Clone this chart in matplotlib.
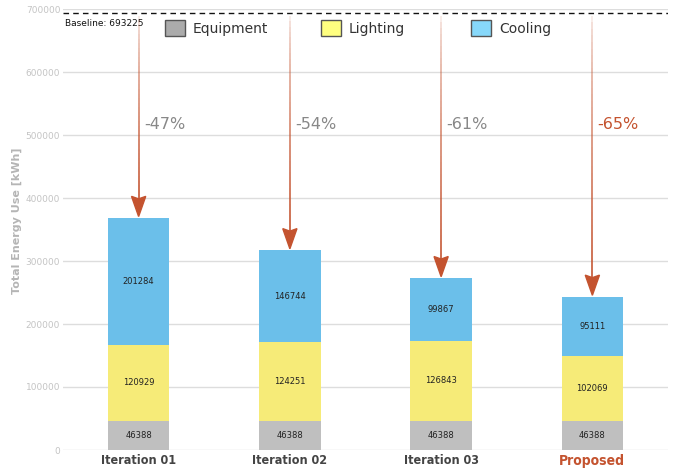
import matplotlib
matplotlib.use("Agg")
import matplotlib.pyplot as plt
import numpy as np
from matplotlib.patches import Patch, Polygon

categories = ["Iteration 01", "Iteration 02", "Iteration 03", "Proposed"]
equipment = [46388, 46388, 46388, 46388]
lighting = [120929, 124251, 126843, 102069]
cooling = [201284, 146744, 99867, 95111]
baseline = 693225
reductions = ["-47%", "-54%", "-61%", "-65%"]
legend_labels = ["Equipment", "Lighting", "Cooling"]
legend_colors = ["#ababab", "#ffff80", "#87d8fa"]

c_equip = "#bfbfbf"
c_light = "#f6eb78"
c_cool = "#6bbfea"
arrow_c = "#c4532f"

fig = plt.figure(figsize=(6.78, 4.70), dpi=100)
ax = fig.add_axes([63/678, 1-450/470, (668-63)/678, (450-9)/470])
x = np.arange(len(categories))
w = 0.405
ax.bar(x, equipment, w, color=c_equip, zorder=2)
ax.bar(x, lighting, w, bottom=equipment, color=c_light, zorder=2)
b2 = np.array(equipment) + np.array(lighting)
ax.bar(x, cooling, w, bottom=b2, color=c_cool, zorder=2)

for i in range(len(categories)):
    ax.text(x[i], equipment[i]/2, str(equipment[i]), ha="center", va="center", fontsize=6, color="#222222", zorder=3)
    ax.text(x[i], equipment[i]+lighting[i]/2, str(lighting[i]), ha="center", va="center", fontsize=6, color="#222222", zorder=3)
    ax.text(x[i], b2[i]+cooling[i]/2, str(cooling[i]), ha="center", va="center", fontsize=6, color="#222222", zorder=3)

ax.set_xlim(-0.5, 3.5)
ax.set_ylim(0, 700000)
ax.set_yticks(np.arange(0, 700001, 100000))
ax.yaxis.grid(True, color="#dddddd", linewidth=1, zorder=0)
ax.tick_params(axis="y", labelcolor="#c4c4c4", labelsize=6.5, length=0, pad=2)
ax.tick_params(axis="x", length=0, pad=3)
for s in ax.spines.values():
    s.set_visible(False)
ax.set_xticks(x)
ax.set_xticklabels(categories, fontsize=9, fontweight="bold", fontstretch="condensed")
for i, lab in enumerate(ax.get_xticklabels()):
    lab.set_color(arrow_c if i == 3 else "#444444")
    if i == 3:
        lab.set_fontsize(10)
ax.set_ylabel("Total Energy Use [kWh]", fontsize=8, fontweight="bold", color="#b5b5b5")
ax.yaxis.set_label_coords(-0.068, 0.52)

# baseline
ax.axhline(baseline, color="#111111", linestyle=(0, (4, 3)), linewidth=1, zorder=3)
ax.text(-0.49, baseline - 9000, "Baseline: 693225", fontsize=6.5, color="#111111", va="top", ha="left", zorder=4)

# arrows with gradient
totals = b2 + np.array(cooling)
for i in range(len(categories)):
    ytop = baseline - 4000
    ytip = totals[i] + 2000
    head_len = 28000
    yhead = ytip + head_len
    n = 40
    ys = np.linspace(ytop, yhead, n + 1)
    for k in range(n):
        a = 0.12 + 0.88 * (k / n) ** 0.6
        ax.plot([x[i], x[i]], [ys[k], ys[k+1]], color=arrow_c, alpha=a, linewidth=1.2, solid_capstyle="butt", zorder=4)
    hw = 0.047
    ax.add_patch(Polygon([[x[i]-hw, yhead+4000], [x[i], ytip], [x[i]+hw, yhead+4000], [x[i], yhead]],
                         closed=True, color=arrow_c, zorder=5))
    ax.text(x[i] + 0.035, 516000, reductions[i], fontsize=11.5, color=arrow_c if i == 3 else "#888888",
            ha="left", va="center", zorder=4)

# legend entries placed individually
leg_x = [165/678, 321/678, 471/678]
for lab, col, lx in zip(legend_labels, legend_colors, leg_x):
    lg = fig.legend(handles=[Patch(facecolor=col, edgecolor="#555555", label=lab)], loc="center left",
                    bbox_to_anchor=(lx, 1-28/470), frameon=False, fontsize=10, handlelength=1.45,
                    handleheight=1.45, handletextpad=0.55, borderaxespad=0, borderpad=0)
    for t in lg.get_texts():
        t.set_color("#333333")

fig.savefig("out.png", dpi=100)
